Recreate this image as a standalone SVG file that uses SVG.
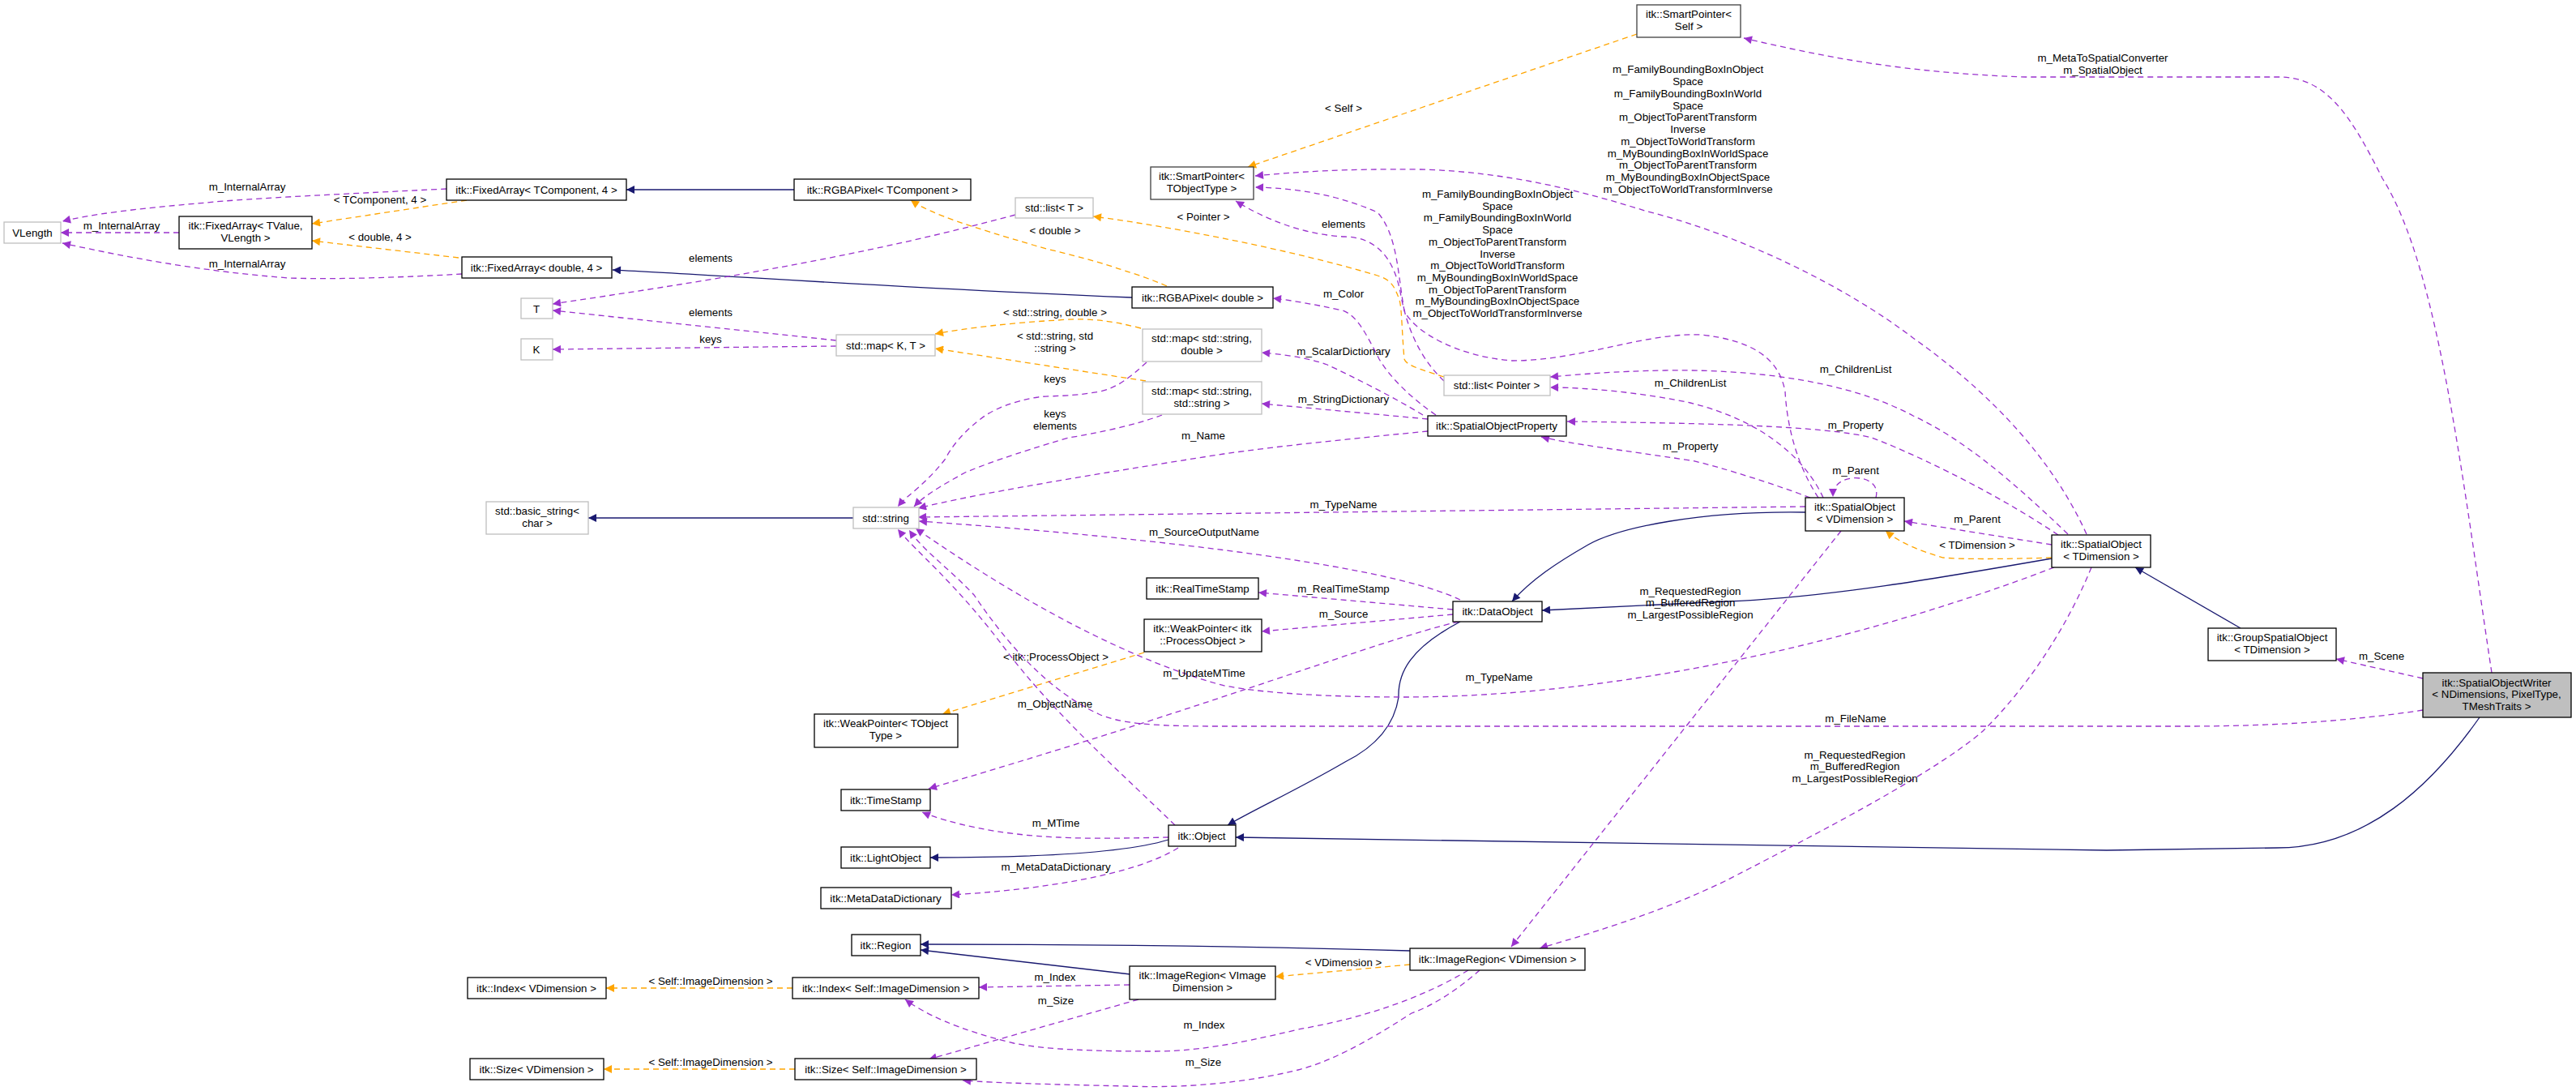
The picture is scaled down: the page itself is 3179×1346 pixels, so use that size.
<svg xmlns="http://www.w3.org/2000/svg" width="3179" height="1346" viewBox="0 0 3179 1346">
<style>
text{font-family:"Liberation Sans",Arial,sans-serif;font-size:13.3px;text-anchor:middle;fill:#000}
.n rect{fill:#fff;stroke:#000;stroke-width:1.3}
.g rect{fill:#fff;stroke:#bfbfbf;stroke-width:1.3}
.d rect{fill:#fff;stroke:#404040;stroke-width:1.3}
.u{fill:none;stroke:#9a32cd;stroke-width:1.3;stroke-dasharray:7,5;marker-end:url(#mu)}
.t{fill:none;stroke:#ffa500;stroke-width:1.3;stroke-dasharray:7,5;marker-end:url(#mt)}
.i{fill:none;stroke:#191970;stroke-width:1.3;marker-end:url(#mi)}
</style>
<defs>
<marker id="mu" viewBox="0 0 10 10" refX="10" refY="5" markerWidth="12" markerHeight="10" markerUnits="userSpaceOnUse" orient="auto"><path d="M0,0L10,5L0,10z" fill="#9a32cd"/></marker>
<marker id="mt" viewBox="0 0 10 10" refX="10" refY="5" markerWidth="12" markerHeight="10" markerUnits="userSpaceOnUse" orient="auto"><path d="M0,0L10,5L0,10z" fill="#ffa500"/></marker>
<marker id="mi" viewBox="0 0 10 10" refX="10" refY="5" markerWidth="12" markerHeight="10" markerUnits="userSpaceOnUse" orient="auto"><path d="M0,0L10,5L0,10z" fill="#191970"/></marker>
</defs>
<rect width="3179" height="1346" fill="#fff"/>
<g id="edges">
<path class="i" d="M980,234L773,234"/>
<path class="i" d="M1397,367C1100,355 900,340 756,333"/>
<path class="i" d="M1053,639L726,639"/>
<path class="i" d="M2228,632C2100,630 2000,650 1960,672C1920,695 1890,715 1866,742"/>
<path class="i" d="M2532,689C2400,712 2250,738 2130,742L1903,753"/>
<path class="i" d="M1802,767C1740,800 1725,830 1726,860C1720,900 1690,925 1660,940C1600,975 1545,1000 1515,1018"/>
<path class="i" d="M3060,885C3000,970 2920,1046 2810,1046L2600,1049C2200,1045 1800,1036 1525,1033"/>
<path class="i" d="M1442,1036C1380,1055 1250,1058 1148,1058"/>
<path class="i" d="M1740,1173C1500,1166 1300,1165 1136,1165"/>
<path class="i" d="M1395,1202L1136,1172"/>
<path class="i" d="M2765,775L2635,700"/>
<path class="t" d="M576,247L385,276"/>
<path class="t" d="M566,318L385,297"/>
<path class="t" d="M1440,353C1410,340 1390,335 1376,330C1330,315 1300,310 1274,302C1200,280 1150,265 1124,247"/>
<path class="t" d="M1782,465C1750,455 1735,450 1733,443C1730,410 1730,380 1727,370C1720,350 1715,345 1700,340C1600,310 1450,280 1349,267"/>
<path class="t" d="M2020,42L1540,206"/>
<path class="t" d="M1408,405C1370,395 1340,392 1306,395C1250,398 1190,405 1154,412"/>
<path class="t" d="M1414,470L1154,430"/>
<path class="t" d="M1412,805L1163,881"/>
<path class="t" d="M2532,688C2470,690 2420,690 2398,688C2370,680 2345,670 2327,655"/>
<path class="t" d="M1740,1190L1574,1205"/>
<path class="t" d="M978,1219L748,1219"/>
<path class="t" d="M981,1319L745,1319"/>
<path class="u" d="M551,233C450,238 300,245 255,250C160,258 110,265 77,273"/>
<path class="u" d="M221,287L75,287"/>
<path class="u" d="M570,338C500,342 420,345 357,343C250,335 160,318 77,300"/>
<path class="u" d="M1253,265C1050,320 850,350 682,375"/>
<path class="u" d="M1032,420L682,383"/>
<path class="u" d="M1032,427L682,431"/>
<path class="u" d="M1415,447C1395,465 1380,478 1357,483C1320,490 1290,488 1281,490C1250,495 1225,505 1210,517C1180,540 1170,560 1166,567C1140,600 1120,610 1108,625"/>
<path class="u" d="M1434,512C1400,525 1350,535 1319,540C1250,560 1210,575 1191,583C1160,600 1140,612 1128,625"/>
<path class="u" d="M1762,532C1680,540 1580,550 1510,560C1350,585 1200,610 1133,627"/>
<path class="u" d="M2228,625L1133,638"/>
<path class="u" d="M1802,740C1720,700 1450,665 1134,643"/>
<path class="u" d="M2535,700C2300,790 2000,860 1732,860C1600,860 1520,850 1500,843C1350,800 1200,700 1130,652"/>
<path class="u" d="M2990,876C2900,890 2800,896 2700,896L1500,896C1420,896 1380,892 1356,881C1290,850 1240,790 1202,734C1170,700 1140,680 1122,654"/>
<path class="u" d="M1450,1018C1380,950 1300,880 1240,800C1180,720 1130,680 1108,653"/>
<path class="u" d="M1793,752L1553,731"/>
<path class="u" d="M1793,758L1557,779"/>
<path class="u" d="M1800,767C1700,790 1500,870 1146,973"/>
<path class="u" d="M1442,1033C1400,1034 1340,1035 1307,1033C1230,1030 1170,1015 1138,1002"/>
<path class="u" d="M1454,1046C1400,1080 1280,1098 1174,1104"/>
<path class="u" d="M1772,512C1740,490 1715,465 1702,443C1685,410 1675,390 1657,383C1620,375 1590,370 1571,368"/>
<path class="u" d="M1756,512C1720,490 1670,465 1638,450C1610,440 1580,437 1557,435"/>
<path class="u" d="M1762,517L1557,498"/>
<path class="u" d="M1782,470C1750,440 1735,400 1728,360C1720,320 1700,293 1660,292C1610,290 1560,270 1525,248"/>
<path class="u" d="M2244,614C2215,570 2205,520 2203,483C2195,440 2160,420 2100,413C2030,410 1950,445 1866,445C1800,440 1745,410 1733,383C1725,340 1725,290 1700,262C1650,240 1600,232 1549,231"/>
<path class="u" d="M2575,659C2530,560 2450,480 2361,417C2280,355 2150,290 2030,260C1950,235 1860,212 1753,209C1660,208 1600,212 1549,217"/>
<path class="u" d="M3075,830C3040,600 3010,330 2940,220C2900,140 2870,95 2812,95L2500,95C2350,90 2250,70 2152,47"/>
<path class="u" d="M2250,614C2230,570 2180,520 2086,497C2030,485 1960,478 1913,478"/>
<path class="u" d="M2552,659C2480,590 2420,540 2361,513C2300,480 2200,455 2055,457C1990,458 1950,462 1913,465"/>
<path class="u" d="M2234,614C2170,590 2100,570 2086,568C2000,555 1940,548 1902,539"/>
<path class="u" d="M2540,660C2450,600 2350,555 2310,540C2250,525 2100,522 1934,520"/>
<path class="u" d="M2315,614C2320,595 2300,588 2285,590C2270,592 2262,600 2262,613"/>
<path class="u" d="M2532,672L2350,643"/>
<path class="u" d="M2272,655L1865,1168"/>
<path class="u" d="M2581,700C2540,800 2480,870 2447,902C2380,960 2200,1050 2131,1086C2040,1130 1950,1155 1900,1170"/>
<path class="u" d="M1394,1215L1208,1218"/>
<path class="u" d="M1405,1233L1146,1307"/>
<path class="u" d="M1812,1197C1740,1240 1660,1260 1602,1270C1520,1290 1470,1297 1426,1297C1350,1297 1290,1295 1251,1287C1180,1270 1140,1250 1117,1233"/>
<path class="u" d="M1826,1197C1800,1220 1770,1240 1742,1250C1680,1290 1640,1310 1602,1320C1520,1340 1440,1342 1391,1340C1300,1338 1230,1336 1188,1333"/>
<path class="u" d="M2990,837L2883,813"/>
</g>
<g id="labels">
<text x="305" y="235">m_InternalArray</text>
<text x="469" y="251">&lt; TComponent, 4 &gt;</text>
<text x="150" y="283">m_InternalArray</text>
<text x="469" y="297">&lt; double, 4 &gt;</text>
<text x="305" y="330">m_InternalArray</text>
<text x="877" y="323">elements</text>
<text x="877" y="390">elements</text>
<text x="877" y="423">keys</text>
<text x="877" y="1215">&lt; Self::ImageDimension &gt;</text>
<text x="877" y="1315">&lt; Self::ImageDimension &gt;</text>
<text x="1302" y="289">&lt; double &gt;</text>
<text x="1302" y="390">&lt; std::string, double &gt;</text>
<text x="1302" y="419">&lt; std::string, std</text>
<text x="1302" y="434">::string &gt;</text>
<text x="1302" y="472">keys</text>
<text x="1302" y="515">keys</text>
<text x="1302" y="530">elements</text>
<text x="1303" y="815">&lt; itk::ProcessObject &gt;</text>
<text x="1302" y="873">m_ObjectName</text>
<text x="1303" y="1020">m_MTime</text>
<text x="1303" y="1074">m_MetaDataDictionary</text>
<text x="1302" y="1210">m_Index</text>
<text x="1303" y="1239">m_Size</text>
<text x="1486" y="1269">m_Index</text>
<text x="1485" y="1315">m_Size</text>
<text x="1485" y="272">&lt; Pointer &gt;</text>
<text x="1485" y="542">m_Name</text>
<text x="1486" y="661">m_SourceOutputName</text>
<text x="1486" y="835">m_UpdateMTime</text>
<text x="1658" y="138">&lt; Self &gt;</text>
<text x="1658" y="281">elements</text>
<text x="1658" y="367">m_Color</text>
<text x="1658" y="438">m_ScalarDictionary</text>
<text x="1658" y="497">m_StringDictionary</text>
<text x="1658" y="627">m_TypeName</text>
<text x="1658" y="731">m_RealTimeStamp</text>
<text x="1658" y="762">m_Source</text>
<text x="1658" y="1192">&lt; VDimension &gt;</text>
<text x="1850" y="840">m_TypeName</text>
<text x="2086" y="734">m_RequestedRegion</text>
<text x="2086" y="748">m_BufferedRegion</text>
<text x="2086" y="763">m_LargestPossibleRegion</text>
<text x="2289" y="936">m_RequestedRegion</text>
<text x="2289" y="950">m_BufferedRegion</text>
<text x="2289" y="965">m_LargestPossibleRegion</text>
<text x="2290" y="891">m_FileName</text>
<text x="2086" y="477">m_ChildrenList</text>
<text x="2290" y="460">m_ChildrenList</text>
<text x="2086" y="555">m_Property</text>
<text x="2290" y="529">m_Property</text>
<text x="2290" y="585">m_Parent</text>
<text x="2440" y="645">m_Parent</text>
<text x="2440" y="677">&lt; TDimension &gt;</text>
<text x="2939" y="814">m_Scene</text>
<text x="2595" y="76">m_MetaToSpatialConverter</text>
<text x="2595" y="91">m_SpatialObject</text>
<g>
<text x="1848" y="244">m_FamilyBoundingBoxInObject</text>
<text x="1848" y="259">Space</text>
<text x="1848" y="273">m_FamilyBoundingBoxInWorld</text>
<text x="1848" y="288">Space</text>
<text x="1848" y="303">m_ObjectToParentTransform</text>
<text x="1848" y="318">Inverse</text>
<text x="1848" y="332">m_ObjectToWorldTransform</text>
<text x="1848" y="347">m_MyBoundingBoxInWorldSpace</text>
<text x="1848" y="362">m_ObjectToParentTransform</text>
<text x="1848" y="376">m_MyBoundingBoxInObjectSpace</text>
<text x="1848" y="391">m_ObjectToWorldTransformInverse</text>
</g>
<g>
<text x="2083" y="90">m_FamilyBoundingBoxInObject</text>
<text x="2083" y="105">Space</text>
<text x="2083" y="120">m_FamilyBoundingBoxInWorld</text>
<text x="2083" y="135">Space</text>
<text x="2083" y="149">m_ObjectToParentTransform</text>
<text x="2083" y="164">Inverse</text>
<text x="2083" y="179">m_ObjectToWorldTransform</text>
<text x="2083" y="194">m_MyBoundingBoxInWorldSpace</text>
<text x="2083" y="208">m_ObjectToParentTransform</text>
<text x="2083" y="223">m_MyBoundingBoxInObjectSpace</text>
<text x="2083" y="238">m_ObjectToWorldTransformInverse</text>
</g>
</g>
<g id="VLength" class="g"><rect x="5" y="274" width="70" height="26"/><text x="40" y="292">VLength</text></g>
<g id="FixedArrayTValue" class="n"><rect x="221" y="267" width="164" height="40"/><text x="303" y="283">itk::FixedArray&lt; TValue,</text><text x="303" y="298">VLength &gt;</text></g>
<g id="FixedArrayTComponent" class="n"><rect x="551" y="221" width="222" height="26"/><text x="662" y="239">itk::FixedArray&lt; TComponent, 4 &gt;</text></g>
<g id="FixedArrayDouble" class="n"><rect x="570" y="317" width="185" height="26"/><text x="662" y="335">itk::FixedArray&lt; double, 4 &gt;</text></g>
<g id="T" class="g"><rect x="643" y="368" width="39" height="25"/><text x="662" y="386">T</text></g>
<g id="K" class="g"><rect x="643" y="418" width="39" height="26"/><text x="662" y="436">K</text></g>
<g id="basic_string" class="g"><rect x="600" y="619" width="126" height="40"/><text x="663" y="635">std::basic_string&lt;</text><text x="663" y="650">char &gt;</text></g>
<g id="RGBAPixelTComponent" class="n"><rect x="980" y="221" width="218" height="26"/><text x="1089" y="239">itk::RGBAPixel&lt; TComponent &gt;</text></g>
<g id="listT" class="g"><rect x="1253" y="244" width="96" height="25"/><text x="1301" y="261">std::list&lt; T &gt;</text></g>
<g id="SmartPointerTObjectType" class="d"><rect x="1420" y="206" width="127" height="40"/><text x="1483" y="222">itk::SmartPointer&lt;</text><text x="1483" y="237">TObjectType &gt;</text></g>
<g id="RGBAPixelDouble" class="n"><rect x="1397" y="354" width="174" height="26"/><text x="1484" y="372">itk::RGBAPixel&lt; double &gt;</text></g>
<g id="mapKT" class="g"><rect x="1032" y="413" width="122" height="26"/><text x="1093" y="431">std::map&lt; K, T &gt;</text></g>
<g id="mapStringDouble" class="g"><rect x="1410" y="406" width="147" height="40"/><text x="1483" y="422">std::map&lt; std::string,</text><text x="1483" y="437">double &gt;</text></g>
<g id="mapStringString" class="g"><rect x="1410" y="471" width="147" height="40"/><text x="1483" y="487">std::map&lt; std::string,</text><text x="1483" y="502">std::string &gt;</text></g>
<g id="listPointer" class="g"><rect x="1782" y="463" width="131" height="25"/><text x="1847" y="480">std::list&lt; Pointer &gt;</text></g>
<g id="SpatialObjectProperty" class="n"><rect x="1762" y="513" width="171" height="25"/><text x="1847" y="530">itk::SpatialObjectProperty</text></g>
<g id="string" class="g"><rect x="1053" y="626" width="81" height="26"/><text x="1093" y="644">std::string</text></g>
<g id="RealTimeStamp" class="n"><rect x="1415" y="713" width="138" height="26"/><text x="1484" y="731">itk::RealTimeStamp</text></g>
<g id="WeakPointerProcessObject" class="n"><rect x="1412" y="764" width="145" height="40"/><text x="1484" y="780">itk::WeakPointer&lt; itk</text><text x="1484" y="795">::ProcessObject &gt;</text></g>
<g id="WeakPointerTObjectType" class="n"><rect x="1005" y="881" width="177" height="41"/><text x="1093" y="897">itk::WeakPointer&lt; TObject</text><text x="1093" y="912">Type &gt;</text></g>
<g id="TimeStamp" class="n"><rect x="1038" y="974" width="110" height="26"/><text x="1093" y="992">itk::TimeStamp</text></g>
<g id="Object" class="n"><rect x="1442" y="1018" width="83" height="26"/><text x="1483" y="1036">itk::Object</text></g>
<g id="LightObject" class="n"><rect x="1038" y="1045" width="110" height="26"/><text x="1093" y="1063">itk::LightObject</text></g>
<g id="MetaDataDictionary" class="n"><rect x="1013" y="1095" width="161" height="26"/><text x="1093" y="1113">itk::MetaDataDictionary</text></g>
<g id="Region" class="n"><rect x="1051" y="1153" width="85" height="26"/><text x="1093" y="1171">itk::Region</text></g>
<g id="IndexVDimension" class="n"><rect x="577" y="1206" width="171" height="26"/><text x="662" y="1224">itk::Index&lt; VDimension &gt;</text></g>
<g id="IndexSelf" class="n"><rect x="978" y="1206" width="230" height="26"/><text x="1093" y="1224">itk::Index&lt; Self::ImageDimension &gt;</text></g>
<g id="SizeVDimension" class="n"><rect x="580" y="1306" width="165" height="26"/><text x="662" y="1324">itk::Size&lt; VDimension &gt;</text></g>
<g id="SizeSelf" class="n"><rect x="981" y="1306" width="224" height="26"/><text x="1093" y="1324">itk::Size&lt; Self::ImageDimension &gt;</text></g>
<g id="ImageRegionVImage" class="n"><rect x="1394" y="1192" width="180" height="41"/><text x="1484" y="1208">itk::ImageRegion&lt; VImage</text><text x="1484" y="1223">Dimension &gt;</text></g>
<g id="ImageRegionVDimension" class="n"><rect x="1740" y="1170" width="216" height="27"/><text x="1848" y="1188">itk::ImageRegion&lt; VDimension &gt;</text></g>
<g id="DataObject" class="n"><rect x="1793" y="742" width="110" height="25"/><text x="1848" y="759">itk::DataObject</text></g>
<g id="SmartPointerSelf" class="d"><rect x="2020" y="6" width="128" height="40"/><text x="2084" y="22">itk::SmartPointer&lt;</text><text x="2084" y="37">Self &gt;</text></g>
<g id="SpatialObjectVDimension" class="n"><rect x="2228" y="614" width="122" height="41"/><text x="2289" y="630">itk::SpatialObject</text><text x="2289" y="645">&lt; VDimension &gt;</text></g>
<g id="SpatialObjectTDimension" class="n"><rect x="2532" y="660" width="122" height="40"/><text x="2593" y="676">itk::SpatialObject</text><text x="2593" y="691">&lt; TDimension &gt;</text></g>
<g id="GroupSpatialObject" class="n"><rect x="2725" y="775" width="158" height="40"/><text x="2804" y="791">itk::GroupSpatialObject</text><text x="2804" y="806">&lt; TDimension &gt;</text></g>
<g id="SpatialObjectWriter" class="n"><rect x="2990" y="830" width="183" height="55" style="fill:#bfbfbf"/><text x="3081" y="847">itk::SpatialObjectWriter</text><text x="3081" y="861">&lt; NDimensions, PixelType,</text><text x="3081" y="876">TMeshTraits &gt;</text></g>
</svg>
